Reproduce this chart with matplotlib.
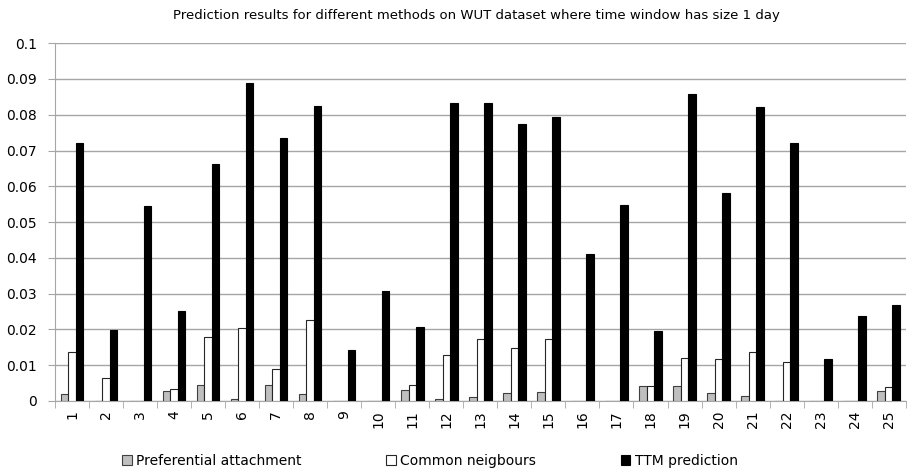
import matplotlib as mpl
import matplotlib.pyplot as plt
import numpy as np

mpl.rcParams['font.family'] = ['DejaVu Sans']

days = [str(i) for i in range(1, 26)]
pref_attach = [0.0019, 0, 0, 0.0027, 0.0044, 0.0006, 0.0044, 0.0019, 0, 0,
               0.0031, 0.0006, 0.0011, 0.0023, 0.0025, 0, 0, 0.0042, 0.0042,
               0.0023, 0.0015, 0, 0, 0, 0.0028]
common_neigh = [0.0136, 0.0064, 0, 0.0034, 0.0180, 0.0205, 0.0089, 0.0225, 0, 0,
                0.0045, 0.0127, 0.0172, 0.0147, 0.0172, 0, 0, 0.0042, 0.0120,
                0.0117, 0.0137, 0.0109, 0, 0, 0.0039]
ttm_pred = [0.0720, 0.0198, 0.0545, 0.0252, 0.0663, 0.0888, 0.0735, 0.0825,
            0.0143, 0.0308, 0.0207, 0.0833, 0.0833, 0.0775, 0.0793, 0.0410,
            0.0548, 0.0195, 0.0857, 0.0580, 0.0822, 0.0720, 0.0118, 0.0237,
            0.0267]

fig = plt.figure(figsize=(9.07, 4.75), dpi=100)
ax = fig.add_axes([0.0606, 0.156, 0.938, 0.753])

x = np.arange(len(days))
w = 0.22
ax.bar(x - w, pref_attach, w, color='#bfbfbf', edgecolor='#404040', lw=0.8,
       label='Preferential attachment', zorder=3)
ax.bar(x, common_neigh, w, color='white', edgecolor='#262626', lw=0.8,
       label='Common neigbours', zorder=3)
ax.bar(x + w, ttm_pred, w, color='black', edgecolor='black', lw=0.8,
       label='TTM prediction', zorder=3)

ax.set_xlim(-0.5, len(days) - 0.5)
ax.set_ylim(0, 0.1)
yt = np.arange(0, 0.1001, 0.01)
ax.set_yticks(yt)
ax.set_yticklabels(['0'] + [f'{v:.2f}'.rstrip('0') for v in yt[1:]])
ax.yaxis.grid(True, color='#a6a6a6', lw=1)
ax.set_axisbelow(True)

ax.set_xticks(x)
ax.set_xticklabels(days, rotation=90)
ax.set_xticks(np.arange(-0.5, len(days), 1), minor=True)
ax.tick_params(axis='x', which='major', length=0, pad=7, labelsize=10)
ax.tick_params(axis='x', which='minor', length=5, color='#a6a6a6')
ax.tick_params(axis='y', length=5, color='#a6a6a6', labelsize=10, pad=8)

for s in ('top', 'right'):
    ax.spines[s].set_visible(False)
for s in ('left', 'bottom'):
    ax.spines[s].set_color('#a6a6a6')

fig.text(0.525, 0.968, 'Prediction results for different methods on WUT dataset '
         'where time window has size 1 day', ha='center', va='center', fontsize=9.5)

fig.legend(loc='center', bbox_to_anchor=(0.474, 0.03), ncol=3, frameon=False,
           fontsize=10, handlelength=0.7, handleheight=0.7, handletextpad=0.3,
           columnspacing=6.1)

fig.savefig('out.png', dpi=100)
